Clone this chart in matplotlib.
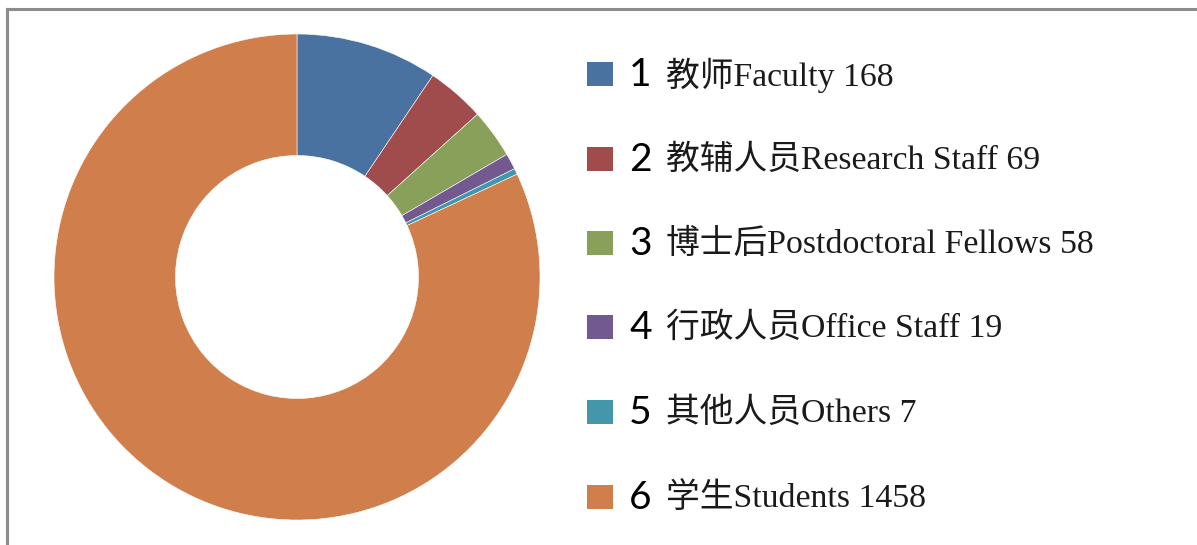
import matplotlib
matplotlib.use("Agg")
import matplotlib.pyplot as plt
from matplotlib.patches import Rectangle
from matplotlib.lines import Line2D

numbers = ["1", "2", "3", "4", "5", "6"]
labels = ["教师Faculty 168", "教辅人员Research Staff 69", "博士后Postdoctoral Fellows 58",
          "行政人员Office Staff 19", "其他人员Others 7", "学生Students 1458"]
values = [168, 69, 58, 19, 7, 1458]
colors = ["#4A72A0", "#A04B4C", "#88A05A", "#725A91", "#4496AA", "#D07E4B"]

W, H = 1197, 545
fig = plt.figure(figsize=(W / 100, H / 100), dpi=100)

# frame lines (top and left visible)
fig.add_artist(Line2D([6.5 / W, 1.0], [1 - 8.5 / H, 1 - 8.5 / H], transform=fig.transFigure,
                      color="#8C8C8C", lw=2.2))
fig.add_artist(Line2D([6.5 / W, 6.5 / W], [0, 1 - 8.5 / H], transform=fig.transFigure,
                      color="#8C8C8C", lw=2.2))

cx, cy, r = 297, 545 - 277, 243
ax = fig.add_axes([(cx - r) / W, (cy - r) / H, 2 * r / W, 2 * r / H])
ax.pie(values, colors=colors, startangle=90, counterclock=False, radius=1,
       wedgeprops=dict(width=0.5, edgecolor="white", linewidth=0.4))
ax.set_xlim(-1, 1)
ax.set_ylim(-1, 1)
ax.set_aspect("equal")
ax.axis("off")

row_y = [74, 159, 243, 327, 412, 497]
for num, lab, col, y in zip(numbers, labels, colors, row_y):
    fig.add_artist(Rectangle(((587) / W, 1 - (y + 12) / H), 26 / W, 24 / H,
                             transform=fig.transFigure, facecolor=col, edgecolor="none"))
    fig.text(629 / W, 1 - (y + 1) / H, num, fontsize=28, family=["Lato"],
             va="center", ha="left", color="black")
    fig.text(666 / W, 1 - (y + 1) / H, lab, fontsize=24.3,
             family=["Liberation Serif", "Noto Sans CJK SC"],
             va="center", ha="left", color="#1a1a1a")

fig.savefig("out.png", dpi=100)
